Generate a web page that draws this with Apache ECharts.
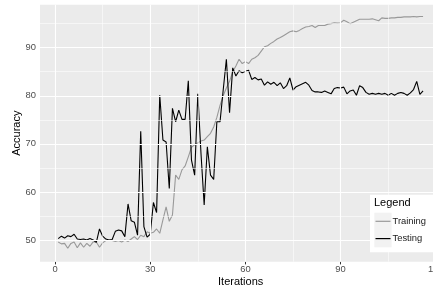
<!DOCTYPE html>
<html>
<head>
<meta charset="utf-8">
<script src="https://cdn.jsdelivr.net/npm/echarts@6/dist/echarts.min.js"></script>
<style>html,body{margin:0;padding:0;background:#fff}#c{width:433px;height:291px}</style>
</head>
<body>
<div id="c"></div>
<script>
const iterations = [1,2,3,4,5,6,7,8,9,10,11,12,13,14,15,16,17,18,19,20,21,22,23,24,25,26,27,28,29,30,31,32,33,34,35,36,37,38,39,40,41,42,43,44,45,46,47,48,49,50,51,52,53,54,55,56,57,58,59,60,61,62,63,64,65,66,67,68,69,70,71,72,73,74,75,76,77,78,79,80,81,82,83,84,85,86,87,88,89,90,91,92,93,94,95,96,97,98,99,100,101,102,103,104,105,106,107,108,109,110,111,112,113,114,115,116];

const training = [49.6,49.2,49.3,48.3,49.3,49.6,48.4,49.4,48.5,49.3,48.7,49.6,49.6,48.5,49.4,49.9,50.0,49.9,49.7,49.9,49.6,50.0,49.7,50.2,50.7,50.1,51.0,50.7,51.7,51.4,51.6,52.3,51.4,54.2,56.9,53.9,55.2,63.5,62.6,64.6,65.4,67.3,69.3,69.8,70.2,70.6,70.8,71.5,72.2,73.5,75.5,78.0,80.0,81.6,83.0,85.0,86.2,87.6,86.7,87.1,86.7,87.6,87.9,88.4,89.3,90.2,90.4,90.9,91.3,91.8,92.1,92.5,92.9,93.3,93.5,93.3,93.6,94.0,94.3,94.4,94.6,94.2,94.6,94.6,94.6,94.9,95.0,95.2,95.1,95.2,95.7,95.4,95.0,95.3,95.6,95.9,95.9,95.9,95.9,96.0,95.8,95.6,96.2,96.1,96.1,96.2,96.2,96.3,96.3,96.4,96.4,96.4,96.5,96.4,96.5,96.5];

const testing = [50.3,50.8,50.4,50.9,50.7,51.2,50.2,50.1,50.2,50.0,50.3,50.0,49.5,52.3,50.8,50.2,50.0,50.1,51.8,52.1,51.9,50.7,57.5,54.0,53.7,51.0,72.6,52.8,50.6,51.2,57.8,55.7,80.1,70.8,70.4,60.7,77.4,74.6,77.0,75.1,75.1,83.1,66.6,63.5,80.4,68.0,57.3,69.4,63.5,62.6,74.6,74.6,81.2,87.6,76.5,85.8,84.1,85.2,84.8,85.1,85.3,83.4,83.8,83.3,83.5,82.2,82.9,82.4,82.8,82.1,82.7,81.5,82.1,83.7,81.2,81.9,82.2,82.5,82.8,82.2,81.1,80.8,80.8,80.7,81.0,80.7,80.4,81.5,81.7,81.6,81.8,80.4,81.0,81.2,80.1,82.1,81.7,80.7,80.3,80.5,80.3,80.5,80.3,80.5,80.1,80.5,80.1,80.5,80.7,80.5,80.1,80.6,81.3,83.0,80.3,81.0];

const xTicks = [0, 30, 60, 90, 120];
const xMinor = [15, 45, 75, 105];
const yTicks = [50, 60, 70, 80, 90];
const yMinor = [55, 65, 75, 85, 95];
const seriesNames = ['Training', 'Testing'];

const FONT = "'Liberation Sans', Arial, sans-serif";
const pairs = (ys) => iterations.map((x, i) => [x, ys[i]]);

const gridLines = []
  .concat(xMinor.map(v => ({ xAxis: v, lineStyle: { width: 0.55 } })))
  .concat(yMinor.map(v => ({ yAxis: v, lineStyle: { width: 0.55 } })))
  .concat(xTicks.map(v => ({ xAxis: v, lineStyle: { width: 1.1 } })))
  .concat(yTicks.map(v => ({ yAxis: v, lineStyle: { width: 1.1 } })));

const chart = echarts.init(document.getElementById('c'), null, { renderer: 'canvas' });
chart.setOption({
  animation: false,
  textStyle: { fontFamily: FONT },
  title: {
    text: 'Legend', left: 374, top: 197.5, padding: 0,
    textStyle: { fontFamily: FONT, fontSize: 11, fontWeight: 'normal', color: '#000' }
  },
  graphic: [
    { type: 'rect', z: 5, silent: true, shape: { x: 370, y: 194.7, width: 66, height: 57.6 }, style: { fill: '#ffffff' } },
    { type: 'rect', z: 6, silent: true, shape: { x: 374.3, y: 212.7, width: 17.3, height: 17.3 }, style: { fill: '#F2F2F2' } },
    { type: 'rect', z: 6, silent: true, shape: { x: 374.3, y: 230.0, width: 17.3, height: 17.3 }, style: { fill: '#F2F2F2' } }
  ],
  legend: {
    data: seriesNames,
    orient: 'vertical',
    left: 375.5, top: 212.65,
    padding: 0,
    icon: 'rect',
    itemWidth: 15, itemHeight: 1.2, itemGap: 0,
    z: 10,
    textStyle: { fontFamily: FONT, fontSize: 9.4, lineHeight: 17.3, color: '#1a1a1a', padding: [0, 0, 0, -3] }
  },
  grid: {
    left: 40, right: -8.3, top: 4.7, bottom: 29.3,
    outerBoundsMode: 'none', containLabel: false,
    show: true, backgroundColor: '#EBEBEB', borderWidth: 0
  },
  xAxis: {
    type: 'value', min: -4.75, max: 121.75,
    name: 'Iterations', nameLocation: 'middle', nameGap: 15, nameMoveOverlap: false,
    nameTextStyle: { fontFamily: FONT, fontSize: 11, color: '#000' },
    axisLine: { show: false },
    axisTick: { show: true, length: 2.7, customValues: xTicks, lineStyle: { color: '#333333', width: 1 } },
    axisLabel: { customValues: xTicks, margin: 3.5, fontFamily: FONT, fontSize: 9.4, color: '#4D4D4D' },
    splitLine: { show: false }
  },
  yAxis: {
    type: 'value', min: 45.49, max: 98.94,
    name: 'Accuracy', nameLocation: 'middle', nameGap: 17.5, nameRotate: 90, nameMoveOverlap: false,
    nameTextStyle: { fontFamily: FONT, fontSize: 11, color: '#000' },
    axisLine: { show: false },
    axisTick: { show: true, length: 2.7, customValues: yTicks, lineStyle: { color: '#333333', width: 1 } },
    axisLabel: { customValues: yTicks, margin: 4, fontFamily: FONT, fontSize: 9.4, color: '#4D4D4D' },
    splitLine: { show: false }
  },
  series: [
    {
      name: '_grid', type: 'line', data: [], z: 1, silent: true,
      markLine: {
        silent: true, symbol: ['none', 'none'], label: { show: false },
        lineStyle: { color: '#ffffff', type: 'solid' },
        emphasis: { disabled: true },
        animation: false,
        data: gridLines
      }
    },
    {
      name: 'Training', type: 'line', data: pairs(training), z: 3,
      symbol: 'none', showSymbol: false,
      lineStyle: { color: '#999999', width: 1.1 }, itemStyle: { color: '#999999' }
    },
    {
      name: 'Testing', type: 'line', data: pairs(testing), z: 4,
      symbol: 'none', showSymbol: false,
      lineStyle: { color: '#000000', width: 1.1 }, itemStyle: { color: '#000000' }
    }
  ]
});
</script>
</body>
</html>
